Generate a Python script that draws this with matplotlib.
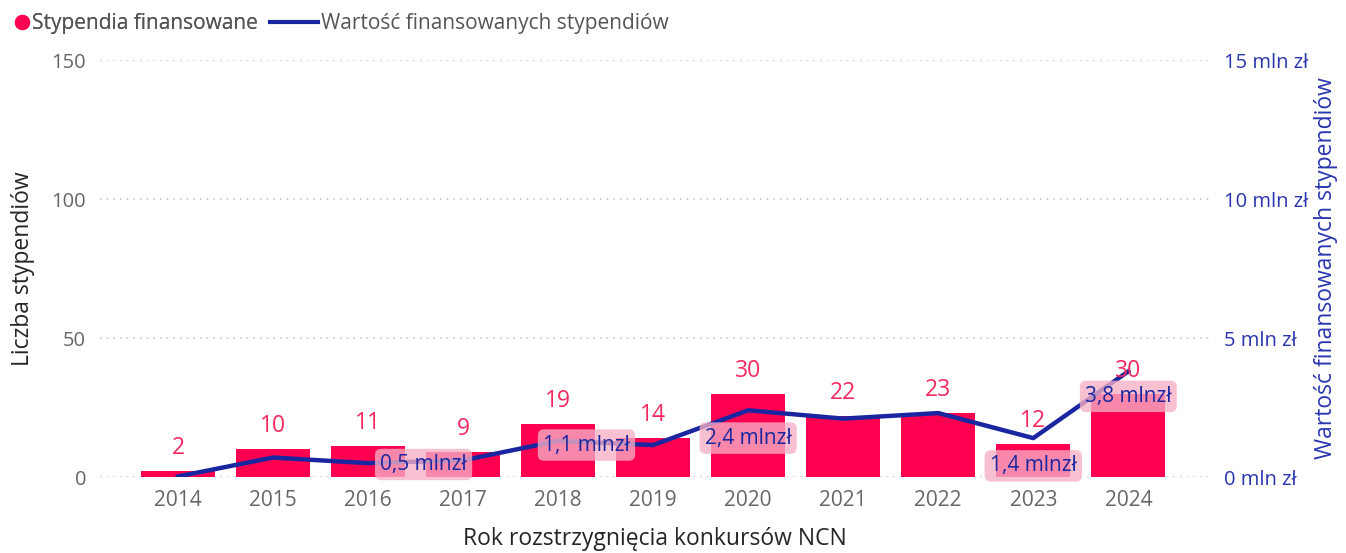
import matplotlib.pyplot as plt
from matplotlib.lines import Line2D
from matplotlib.ticker import FuncFormatter
import numpy as np

plt.rcParams['font.family'] = ['Open Sans', 'DejaVu Sans']

years = ['2014', '2015', '2016', '2017', '2018', '2019', '2020', '2021', '2022', '2023', '2024']
grants = [2, 10, 11, 9, 19, 14, 30, 22, 23, 12, 30]
value_mln = [0.02, 0.7, 0.5, 0.6, 1.3, 1.15, 2.4, 2.1, 2.3, 1.4, 3.8]
# which points of the line get a label, and where the label sits (points offset)
value_labels = {2: '0,5 mlnzł', 5: '1,1 mlnzł', 6: '2,4 mlnzł', 9: '1,4 mlnzł', 10: '3,8 mlnzł'}
label_offsets = {2: (40, -1), 5: (-48, 0), 6: (0, -20), 9: (0, -20), 10: (0, -18)}

bar_color = '#FF0050'
line_color = '#1A26A0'
axis_blue = '#2A35B0'
grey = '#666666'

fig = plt.figure(figsize=(13.46, 5.53), dpi=100)
ax = fig.add_axes([0.0743, 0.1374, 0.8247, 0.7541])
x = np.arange(len(years))

ax.bar(x, grants, width=0.78, color=bar_color, zorder=2)
ax.set_ylim(0, 150)
ax.set_xlim(-0.82, len(years) - 1 + 0.86)
ax.set_yticks([0, 50, 100, 150])
ax.set_xticks(x)
ax.set_xticklabels(years)
ax.tick_params(axis='x', length=0, labelsize=15, colors=grey, pad=9)
ax.tick_params(axis='y', length=0, labelsize=14.5, colors=grey, pad=10)
ax.grid(axis='y', linestyle=(0, (1, 3)), color='#C8C8C8', linewidth=1.2, zorder=0)
for s in ax.spines.values():
    s.set_visible(False)
ax.set_ylabel('Liczba stypendiów', fontsize=16.5, color='#252525', labelpad=12)
ax.set_xlabel('Rok rozstrzygnięcia konkursów NCN', fontsize=16.5, color='#252525', labelpad=12)

ax2 = ax.twinx()
ax2.set_ylim(0, 15)
ax2.set_yticks([0, 5, 10, 15])
ax2.yaxis.set_major_formatter(FuncFormatter(lambda v, p: f'{v:.0f} mln zł'))
ax2.tick_params(axis='y', length=0, labelsize=14.5, colors=axis_blue, pad=10)
for s in ax2.spines.values():
    s.set_visible(False)
ax2.set_ylabel('Wartość finansowanych stypendiów', fontsize=16.5, color=axis_blue, labelpad=4)

ax2.plot(x, value_mln, color=line_color, linewidth=3.2, solid_joinstyle='round', zorder=3)

for i, txt in value_labels.items():
    ax2.annotate(txt, (x[i], value_mln[i]), xytext=label_offsets[i], textcoords='offset points',
                 ha='center', va='center', fontsize=15, color=line_color, zorder=5,
                 bbox=dict(boxstyle='round,pad=0.25,rounding_size=0.3', fc='#F7B0C5', ec='none', alpha=0.78))

for i, n in enumerate(grants):
    ax2.annotate(str(n), (x[i], n), xycoords=ax.transData, xytext=(0, 8), textcoords='offset points',
                 ha='center', va='bottom', fontsize=16.5, color='#F5295F', zorder=6)

# two legends so the dot and the line can have different handle lengths
dot = Line2D([], [], marker='o', linestyle='none', markersize=10, color=bar_color)
leg1 = fig.legend([dot], ['Stypendia finansowane'], loc='upper left', bbox_to_anchor=(-0.004, 1.01),
                  frameon=False, fontsize=15, labelcolor='#555555', handlelength=0.8, handletextpad=0.1)
fig.add_artist(leg1)
line = Line2D([], [], color=line_color, linewidth=3)
fig.legend([line], ['Wartość finansowanych stypendiów'], loc='upper left', bbox_to_anchor=(0.187, 1.01),
           frameon=False, fontsize=15, labelcolor='#555555', handlelength=2.3, handletextpad=0.15)

fig.savefig('out.png', dpi=100)
